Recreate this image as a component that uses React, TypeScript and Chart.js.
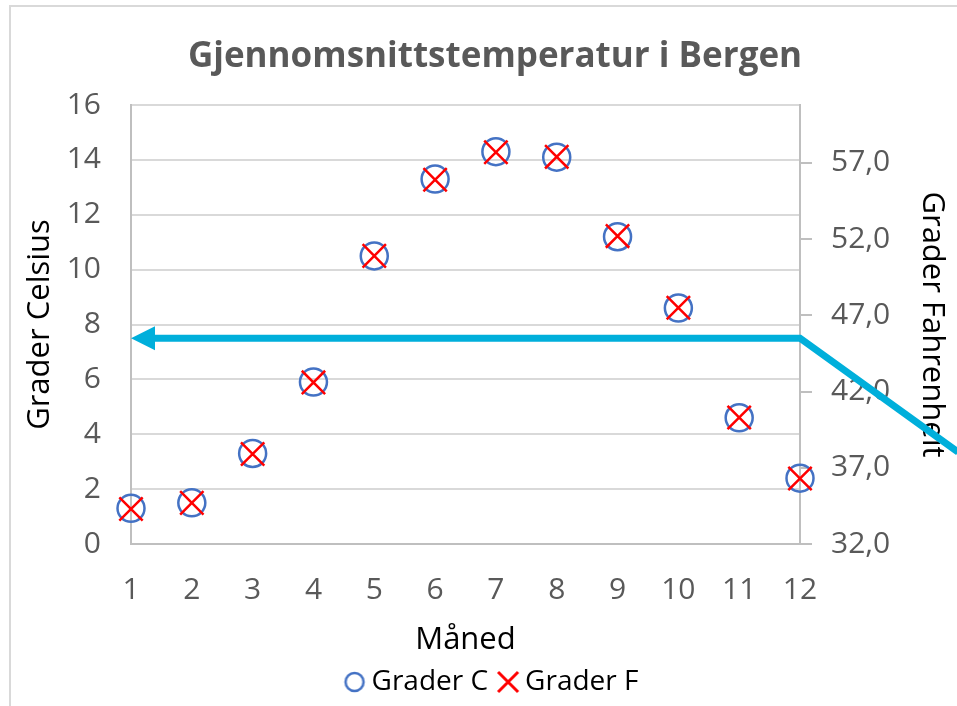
import React, { useEffect, useRef } from 'react';
import { Chart, registerables } from 'chart.js';

Chart.register(...registerables);

const MONTHS = [1, 2, 3, 4, 5, 6, 7, 8, 9, 10, 11, 12];
const GRADER_C = [1.3, 1.5, 3.3, 5.9, 10.5, 13.3, 14.3, 14.1, 11.2, 8.6, 4.6, 2.4];
const GRADER_F = [34.3, 34.7, 37.9, 42.6, 50.9, 55.9, 57.7, 57.4, 52.2, 47.5, 40.3, 36.3];
const C_TICKS = [0, 2, 4, 6, 8, 10, 12, 14, 16];
const F_TICKS = [32, 37, 42, 47, 52, 57];
const F_MIN = 32;
const F_MAX = 60.8;
// annotation arrow path (data coordinates: month, °C)
const ARROW_X = [1, 12, 14.6];
const ARROW_Y = [7.5, 7.5, 3.35];

const FONT = '"Open Sans", "Liberation Sans", sans-serif';
const TICK_COLOR = '#595959';
const GRID_COLOR = '#D9D9D9';
const AXIS_COLOR = '#BFBFBF';
const BLUE = '#4472C4';
const RED = '#FF0000';
const ARROW_COLOR = '#00AFDB';

function makeLegendIcon(kind: 'circle' | 'cross'): HTMLCanvasElement {
  const c = document.createElement('canvas');
  c.width = 24;
  c.height = 24;
  const g = c.getContext('2d')!;
  g.lineWidth = kind === 'circle' ? 2.5 : 3;
  if (kind === 'circle') {
    g.strokeStyle = BLUE;
    g.beginPath();
    g.arc(12, 12, 9, 0, Math.PI * 2);
    g.stroke();
  } else {
    g.strokeStyle = RED;
    g.beginPath();
    g.moveTo(2, 2);
    g.lineTo(22, 22);
    g.moveTo(22, 2);
    g.lineTo(2, 22);
    g.stroke();
  }
  return c;
}

const framePlugin = {
  id: 'frame',
  beforeDraw(chart: any) {
    const { ctx } = chart;
    ctx.save();
    ctx.fillStyle = '#FFFFFF';
    ctx.fillRect(0, 0, chart.width, chart.height);
    ctx.strokeStyle = GRID_COLOR;
    ctx.lineWidth = 2;
    ctx.strokeRect(10, 6, chart.width - 14, chart.height + 20);
    ctx.restore();
  },
};

const arrowPlugin = {
  id: 'arrowNote',
  afterDatasetsDraw(chart: any) {
    const { ctx } = chart;
    const xs = chart.scales.x;
    const ys = chart.scales.y;
    const pts = ARROW_X.map((v, i) => ({ px: xs.getPixelForValue(v), py: ys.getPixelForValue(ARROW_Y[i]) }));
    const headLen = 24;
    const headHalf = 12;
    ctx.save();
    ctx.strokeStyle = ARROW_COLOR;
    ctx.fillStyle = ARROW_COLOR;
    ctx.lineWidth = 7;
    ctx.lineJoin = 'miter';
    ctx.beginPath();
    ctx.moveTo(pts[0].px + headLen - 2, pts[0].py);
    for (let i = 1; i < pts.length; i++) ctx.lineTo(pts[i].px, pts[i].py);
    ctx.stroke();
    ctx.beginPath();
    ctx.moveTo(pts[0].px, pts[0].py);
    ctx.lineTo(pts[0].px + headLen, pts[0].py - headHalf);
    ctx.lineTo(pts[0].px + headLen, pts[0].py + headHalf);
    ctx.closePath();
    ctx.fill();
    ctx.restore();
  },
};

export default function App() {
  const ref = useRef<HTMLCanvasElement | null>(null);

  useEffect(() => {
    let chart: Chart | null = null;
    let cancelled = false;
    const build = () => {
      if (cancelled || !ref.current) return;
      const icons = [makeLegendIcon('circle'), makeLegendIcon('cross')];
      chart = new Chart(ref.current, {
        type: 'scatter',
        data: {
          datasets: [
            {
              label: 'Grader C',
              data: MONTHS.map((m, i) => ({ x: m, y: GRADER_C[i] })),
              yAxisID: 'y',
              pointStyle: 'circle',
              pointRadius: 13.5,
              pointBorderWidth: 2.5,
              borderColor: BLUE,
              backgroundColor: 'rgba(0,0,0,0)',
              order: 1,
              clip: false,
            } as any,
            {
              label: 'Grader F',
              data: MONTHS.map((m, i) => ({ x: m, y: GRADER_F[i] })),
              yAxisID: 'y2',
              pointStyle: 'crossRot',
              pointRadius: 16.5,
              pointBorderWidth: 2.5,
              borderColor: RED,
              backgroundColor: RED,
              order: 0,
              clip: false,
            } as any,
          ],
        },
        options: {
          responsive: false,
          animation: false,
          devicePixelRatio: 1,
          events: [],
          layout: { padding: { left: 10, right: 0, top: 0, bottom: 0 } },
          plugins: {
            title: {
              display: true,
              text: 'Gjennomsnittstemperatur i Bergen',
              color: TICK_COLOR,
              font: { family: FONT, size: 35, weight: 'bold', lineHeight: 1.2 },
              padding: { top: 36, bottom: 27 },
            },
            legend: {
              display: true,
              position: 'bottom',
              labels: {
                color: '#000000',
                font: { family: FONT, size: 28 },
                usePointStyle: true,
                pointStyleWidth: 6,
                boxHeight: 20,
                padding: 17,
                generateLabels: (ch: any) => {
                  const items = Chart.defaults.plugins.legend.labels.generateLabels(ch);
                  return items
                    .slice()
                    .sort((a: any, b: any) => a.datasetIndex - b.datasetIndex)
                    .map((it: any) => ({
                      ...it,
                      pointStyle: icons[it.datasetIndex],
                    }));
                },
              },
            },
            tooltip: { enabled: false },
          },
          scales: {
            x: {
              type: 'linear',
              min: 1,
              max: 12,
              afterBuildTicks: (s: any) => {
                s.ticks = MONTHS.map((v) => ({ value: v }));
              },
              afterFit: (s: any) => {
                s.height = 107;
              },
              grid: { display: false, drawTicks: false },
              border: { display: true, color: AXIS_COLOR, width: 2 },
              ticks: {
                color: TICK_COLOR,
                font: { family: FONT, size: 30 },
                padding: 28,
                maxRotation: 0,
                autoSkip: false,
                callback: (v: any) => String(v),
              },
              title: {
                display: true,
                text: 'Måned',
                color: '#000000',
                font: { family: FONT, size: 31, lineHeight: 1.2 },
                padding: { top: 0, bottom: -7.6 },
              },
            },
            y: {
              type: 'linear',
              position: 'left',
              min: 0,
              max: 16,
              afterBuildTicks: (s: any) => {
                s.ticks = C_TICKS.map((v) => ({ value: v }));
              },
              afterFit: (s: any) => {
                s.width = 121;
              },
              grid: { color: GRID_COLOR, lineWidth: 2, drawTicks: false },
              border: { display: true, color: AXIS_COLOR, width: 2 },
              ticks: {
                color: TICK_COLOR,
                font: { family: FONT, size: 30 },
                padding: 30,
                autoSkip: false,
                callback: (v: any) => String(v),
              },
              title: {
                display: true,
                text: 'Grader Celsius',
                color: '#000000',
                font: { family: FONT, size: 31, lineHeight: 1.2 },
                padding: { top: 11.4, bottom: 0 },
              },
            },
            y2: {
              type: 'linear',
              position: 'right',
              min: F_MIN,
              max: F_MAX,
              afterBuildTicks: (s: any) => {
                s.ticks = F_TICKS.map((v) => ({ value: v }));
              },
              afterFit: (s: any) => {
                s.width = 180;
              },
              grid: {
                drawOnChartArea: false,
                drawTicks: true,
                tickLength: 12,
                color: AXIS_COLOR,
                lineWidth: 2,
              },
              border: { display: true, color: AXIS_COLOR, width: 2 },
              ticks: {
                color: TICK_COLOR,
                font: { family: FONT, size: 30 },
                padding: 19,
                autoSkip: false,
                callback: (v: any) => Number(v).toFixed(1).replace('.', ','),
              },
              title: {
                display: true,
                text: 'Grader Fahrenheit',
                color: '#000000',
                font: { family: FONT, size: 31, lineHeight: 1.2 },
                padding: { top: 29.4, bottom: 0 },
              },
            },
          },
        } as any,
        plugins: [framePlugin, arrowPlugin],
      });
    };
    const fontsReady = (document as any).fonts
      ? Promise.all([
          (document as any).fonts.load('30px "Open Sans"'),
          (document as any).fonts.load('bold 34px "Open Sans"'),
        ]).catch(() => null)
      : Promise.resolve(null);
    fontsReady.then(build);
    return () => {
      cancelled = true;
      if (chart) chart.destroy();
    };
  }, []);

  return (
    <div
      style={{
        position: 'absolute',
        left: 0,
        top: 0,
        width: 957,
        height: 706,
        overflow: 'hidden',
        background: '#FFFFFF',
      }}
    >
      <canvas ref={ref} width={980} height={706} style={{ display: 'block' }} />
    </div>
  );
}
